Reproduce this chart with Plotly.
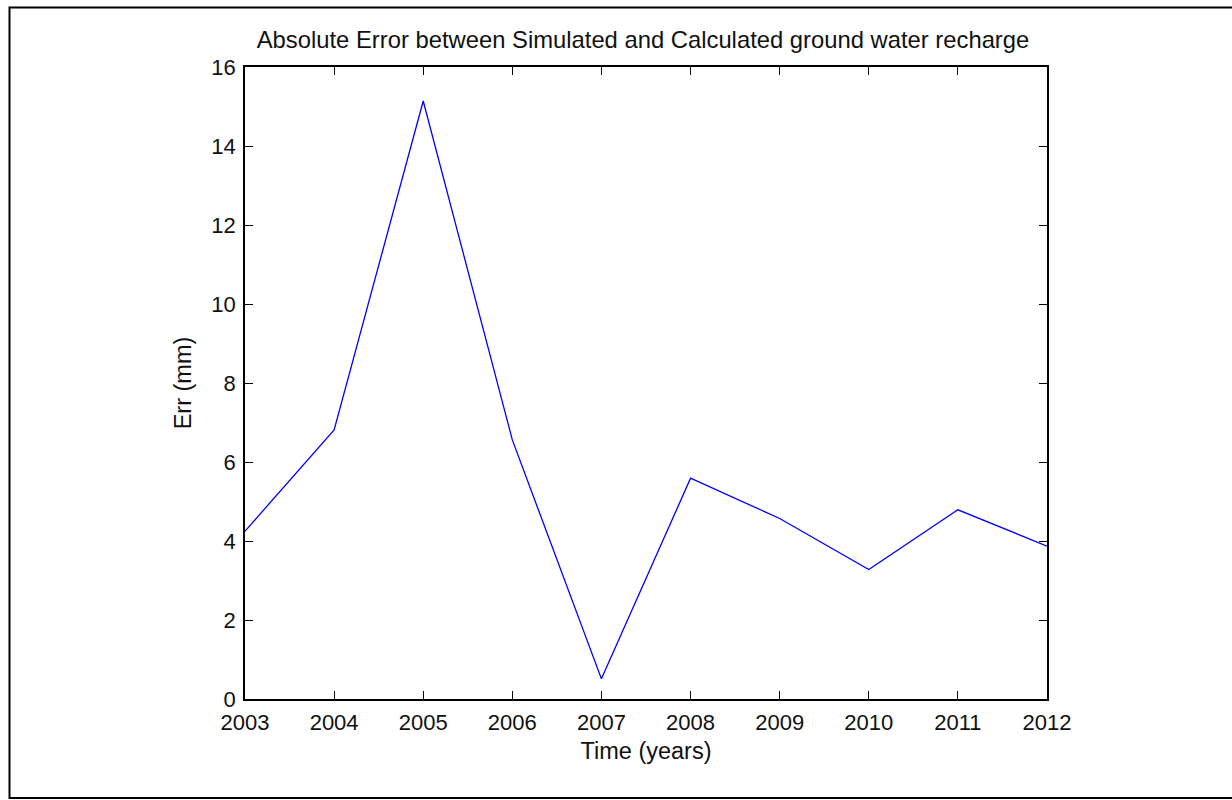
import plotly.graph_objects as go

years = [2003, 2004, 2005, 2006, 2007, 2008, 2009, 2010, 2011, 2012]
err_mm = [4.25, 6.81, 15.14, 6.56, 0.51, 5.59, 4.57, 3.28, 4.79, 3.87]
y_ticks = [0, 2, 4, 6, 8, 10, 12, 14, 16]

FONT = "Liberation Sans, Arial, sans-serif"
L, R, T, B = 245, 185, 67, 101
W, H = 1232, 800
pw, ph = W - L - R, H - T - B

fig = go.Figure()
fig.add_trace(go.Scatter(x=years, y=err_mm, mode="lines",
                         line=dict(color="#0000ff", width=1.3), showlegend=False))

axis_common = dict(showline=True, linecolor="black", linewidth=1.5, mirror="ticks",
                   ticks="inside", ticklen=8, tickwidth=1.3, tickcolor="black",
                   showgrid=False, zeroline=False,
                   tickfont=dict(family=FONT, size=22, color="#111"))

fig.update_xaxes(range=[2003, 2012], tickvals=years, ticktext=[str(y) for y in years],
                 ticklabelstandoff=3,
                 title=dict(text="Time (years)", font=dict(family=FONT, size=23.5, color="#111"), standoff=8),
                 **axis_common)
fig.update_yaxes(range=[0, 16], tickvals=y_ticks, ticklabelstandoff=3,
                 title=dict(text="Err (mm)", font=dict(family=FONT, size=23.5, color="#111"), standoff=13),
                 **axis_common)

def px_x(p):
    return (p - L) / pw

def px_y(p):
    return (H - B - p) / ph

fig.add_shape(type="rect", xref="paper", yref="paper",
              x0=px_x(9.5), x1=px_x(1236), y0=px_y(798), y1=px_y(7.5),
              line=dict(color="black", width=2), layer="below")

fig.update_layout(
    width=W, height=H,
    margin=dict(l=L, r=R, t=T, b=B),
    paper_bgcolor="white", plot_bgcolor="white",
    title=dict(text="Absolute Error between Simulated and Calculated ground water recharge",
               x=px_x(643), xanchor="center", xref="paper",
               y=1 - 40 / H, yanchor="middle", yref="container",
               font=dict(family=FONT, size=23.8, color="#111")),
)

fig.write_html("out.html")
